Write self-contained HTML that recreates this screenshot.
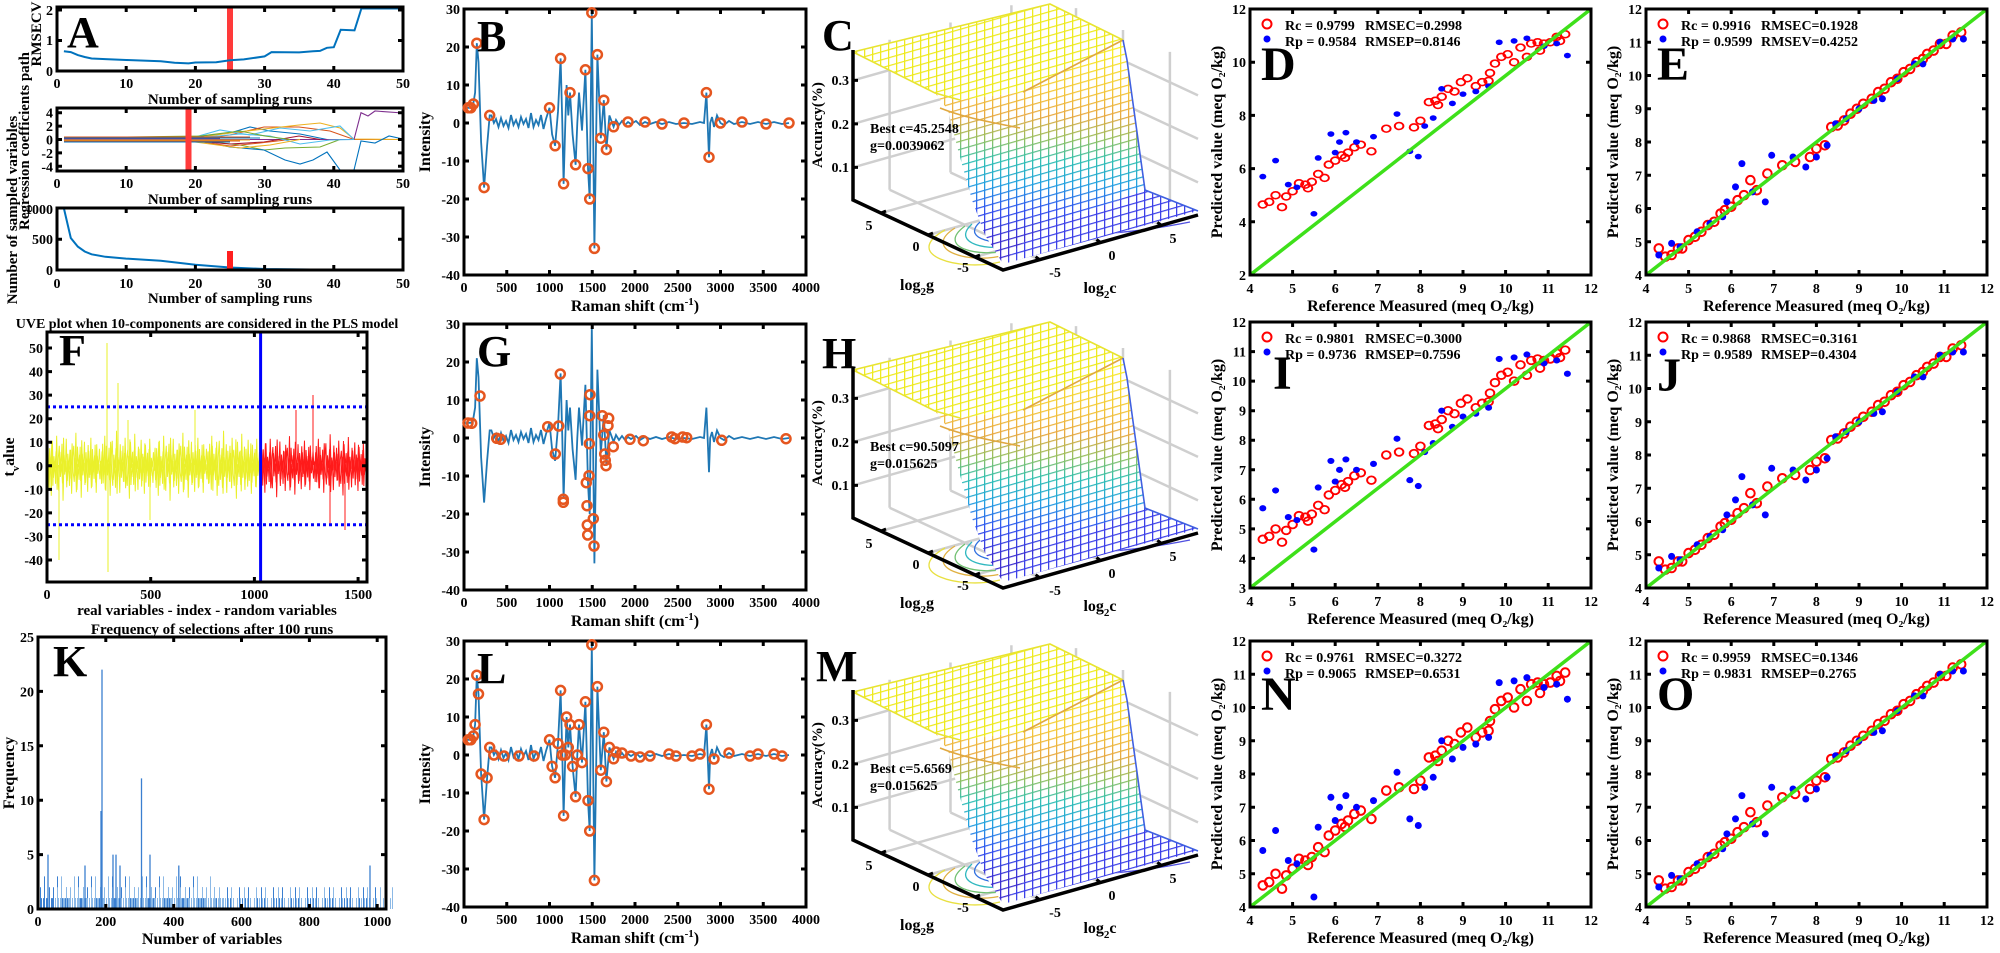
<!DOCTYPE html>
<html><head><meta charset="utf-8"><style>
body{margin:0;background:#fff}svg{display:block}
text{font-family:"Liberation Serif","DejaVu Serif",serif;font-weight:bold;font-size:14px}
.t15{font-size:15px}.t16{font-size:16px}.big{font-size:44px}.big48{font-size:48px}
.e{text-anchor:end}.m{text-anchor:middle}
.oc{fill:none;stroke:#E5561F;stroke-width:2.5}
.rc{fill:none;stroke:#ff0000;stroke-width:2}
.bc{fill:#0000ff}
.fr{fill:none;stroke:#000;stroke-width:3}
.tk{stroke:#000;stroke-width:3;fill:none}
</style></head>
<body>
<svg width="2000" height="953" xmlns="http://www.w3.org/2000/svg" xmlns:xlink="http://www.w3.org/1999/xlink">
<defs>
<clipPath id="cF"><rect x="47" y="332" width="320" height="250"/></clipPath>
<pattern id="gp" width="8" height="8" patternUnits="userSpaceOnUse" patternTransform="skewY(-16)"><path d="M0,0.6H8M0.6,0V8" stroke="#fff" stroke-width="1.3"/></pattern>
<mask id="mk" maskUnits="userSpaceOnUse" x="780" y="-10" width="440" height="300"><rect x="780" y="-10" width="440" height="300" fill="url(#gp)"/></mask>
<linearGradient id="sg" gradientUnits="userSpaceOnUse" x1="0" y1="40" x2="0" y2="240">
<stop offset="0" stop-color="#f9f520"/><stop offset="0.25" stop-color="#f4c838"/><stop offset="0.38" stop-color="#e8a840"/><stop offset="0.5" stop-color="#90c060"/><stop offset="0.6" stop-color="#30c0b0"/><stop offset="0.72" stop-color="#20a0e0"/><stop offset="0.85" stop-color="#3050f0"/><stop offset="1" stop-color="#3a2cd0"/></linearGradient>

<path id="nz" d="M0,5 L1.07,-18 L2.14,22 L3.21,-9 L4.28,30 L5.35,-25 L6.42,12 L7.49,-3 L8.56,18 L9.63,-30 L10.7,8 L11.77,25 L12.84,-14 L13.91,3 L14.98,-22 L16.05,35 L17.12,-11 L18.19,6 L19.26,-27 L20.33,15 L21.4,-5 L22.47,20 L23.54,-16 L24.61,28 L25.68,-8 L26.75,-20 L27.82,10 L28.89,-33 L29.96,24 L31.03,-2 L32.1,14 L33.17,-19 L34.24,32 L35.31,-12 L36.38,4 L37.45,-24 L38.52,17 L39.59,-7 L40.66,26 L41.73,-15 L42.8,9 L43.87,-28 L44.94,21 L46.01,-4 L47.08,13 L48.15,-21 L49.22,27 L50.29,-10 L51.36,2 L52.43,-17 L53.5,5" fill="none" stroke-width="1"/>

<path id="kd" d="M0.5,0v-10.9M2.5,0v-21.8M3.5,0v-10.9M5.5,0v-10.9M6.5,0v-32.6M8.5,0v-10.9M9.5,0v-10.9M11.5,0v-21.8M13.5,0v-10.9M14.5,0v-10.9M15.5,0v-21.8M17.5,0v-10.9M19.5,0v-32.6M20.5,0v-10.9M22.5,0v-10.9M23.5,0v-21.8M24.5,0v-10.9M27.5,0v-10.9M28.5,0v-21.8M29.5,0v-10.9M31.5,0v-10.9M32.5,0v-10.9" stroke-width="1"/>
<path id="ks" d="M0.5,0v-10.9M3.5,0v-10.9M6.5,0v-21.8M8.5,0v-10.9M12.5,0v-10.9M15.5,0v-10.9M19.5,0v-21.8M22.5,0v-10.9M25.5,0v-10.9M29.5,0v-10.9M31.5,0v-21.8" stroke-width="1"/>

<g id="spec">
<polyline fill="none" stroke="#1f77b4" stroke-width="1.8" points="3.4,98.8 8.6,98.8 11.1,83.6 12.8,34.2 14.5,53 17.1,133 20.1,178.6 23.1,136.8 25.7,106.4 27.4,106.4 29.9,114 32,110 34.5,118 37,109 39.5,117 42,112 44.5,119 47,106 49.5,116 52,111 54.5,118 57,108 59.5,115 62,110 64.5,119 67,104 69.5,118 72,111 74.5,116 77,106 79.5,120 82,110 85.5,98.8 88.1,125.4 91.1,136.8 94,102.6 96.6,49.4 98.3,114 99.6,174.8 101.3,114 102.6,76 104.3,106.4 106,83.6 108.6,125.4 111.6,155.8 113.3,114 115,83.6 118,121.6 121.4,60.8 124,159.6 125.7,190 127.8,3.8 130.4,239.4 133.4,45.6 136.8,129.2 139.8,91.2 142.4,140.6 145.4,106.4 149.6,117.8 152,111 155,116 158,112 161,116 164,113 167,115 172,112 176,116 181,113 186,115 192,113 198,115 205,113 212,115 220,114 228,115 236,113 240,114 242.4,83.6 245,148.2 246.2,114 248,108 250,118 253,106.4 256.5,114 260,116 265,112 270,115 278,113 286,115 294,113 302,115 310,113 318,115 325,114"/>
<rect class="fr" x="0" y="0" width="342" height="266"/>
<path class="tk" d="M42.75,266v-5M85.5,266v-5M128.25,266v-5M171,266v-5M213.75,266v-5M256.5,266v-5M299.25,266v-5M42.75,0v5M85.5,0v5M128.25,0v5M171,0v5M213.75,0v5M256.5,0v5M299.25,0v5M0,38h5M0,76h5M0,114h5M0,152h5M0,190h5M0,228h5M342,38h-5M342,76h-5M342,114h-5M342,152h-5M342,190h-5M342,228h-5"/>
<g class="m"><text x="0" y="283">0</text><text x="42.75" y="283">500</text><text x="85.5" y="283">1000</text><text x="128.25" y="283">1500</text><text x="171" y="283">2000</text><text x="213.75" y="283">2500</text><text x="256.5" y="283">3000</text><text x="299.25" y="283">3500</text><text x="342" y="283">4000</text></g>
<g class="e"><text x="-4" y="5">30</text><text x="-4" y="43">20</text><text x="-4" y="81">10</text><text x="-4" y="119">0</text><text x="-4" y="157">-10</text><text x="-4" y="195">-20</text><text x="-4" y="233">-30</text><text x="-4" y="271">-40</text></g>
<text class="t16 m" x="171" y="302">Raman shift (cm<tspan dy="-6" font-size="11">-1</tspan><tspan dy="6">)</tspan></text>
<text class="t16 m" x="-34" y="133" transform="rotate(-90 -34 133)">Intensity</text>
</g>

<g id="sf">
<line x1="0" y1="266" x2="341" y2="0" stroke="#3ee01a" stroke-width="3.5"/>
<rect class="fr" x="0" y="0" width="341" height="266"/>
<path class="tk" d="M42.6,266v-5M85.2,266v-5M127.8,266v-5M170.4,266v-5M213,266v-5M255.6,266v-5M298.2,266v-5M42.6,0v5M85.2,0v5M127.8,0v5M170.4,0v5M213,0v5M255.6,0v5M298.2,0v5"/>
<g class="m t15"><text x="0" y="284">4</text><text x="42.6" y="284">5</text><text x="85.2" y="284">6</text><text x="127.8" y="284">7</text><text x="170.4" y="284">8</text><text x="213" y="284">9</text><text x="255.6" y="284">10</text><text x="298.2" y="284">11</text><text x="341" y="284">12</text></g>
<text class="t16 m" x="170.5" y="302">Reference Measured (meq O₂/kg)</text>
<text class="t16 m" x="-28" y="133" transform="rotate(-90 -28 133)">Predicted value (meq O₂/kg)</text>
<circle cx="17" cy="15" r="4.5" class="rc"/><circle cx="17" cy="30" r="3.5" class="bc"/>
</g>

<g id="loose">
<g class="rc"><circle cx="12.8" cy="244.4" r="4.3"/><circle cx="19.2" cy="241.1" r="4.3"/><circle cx="25.6" cy="232.8" r="4.3"/><circle cx="32" cy="247.7" r="4.3"/><circle cx="36.2" cy="234.4" r="4.3"/><circle cx="42.6" cy="227.8" r="4.3"/><circle cx="49" cy="217.8" r="4.3"/><circle cx="55.4" cy="219.5" r="4.3"/><circle cx="61.8" cy="216.1" r="4.3"/><circle cx="68.2" cy="206.2" r="4.3"/><circle cx="74.6" cy="211.1" r="4.3"/><circle cx="78.8" cy="194.5" r="4.3"/><circle cx="85.2" cy="189.5" r="4.3"/><circle cx="91.6" cy="182.9" r="4.3"/><circle cx="98" cy="179.5" r="4.3"/><circle cx="104.4" cy="172.9" r="4.3"/><circle cx="110.8" cy="169.6" r="4.3"/><circle cx="121.4" cy="177.9" r="4.3"/><circle cx="136.3" cy="149.6" r="4.3"/><circle cx="149.1" cy="146.3" r="4.3"/><circle cx="164" cy="148" r="4.3"/><circle cx="170.4" cy="139.7" r="4.3"/><circle cx="178.9" cy="116.4" r="4.3"/><circle cx="185.3" cy="114.7" r="4.3"/><circle cx="191.7" cy="109.7" r="4.3"/><circle cx="198.1" cy="99.8" r="4.3"/><circle cx="204.5" cy="103.1" r="4.3"/><circle cx="210.9" cy="91.4" r="4.3"/><circle cx="217.3" cy="86.5" r="4.3"/><circle cx="225.8" cy="96.4" r="4.3"/><circle cx="232.2" cy="91.4" r="4.3"/><circle cx="238.6" cy="89.8" r="4.3"/><circle cx="245" cy="68.2" r="4.3"/><circle cx="251.3" cy="59.9" r="4.3"/><circle cx="257.7" cy="56.5" r="4.3"/><circle cx="264.1" cy="66.5" r="4.3"/><circle cx="270.5" cy="48.2" r="4.3"/><circle cx="276.9" cy="59.9" r="4.3"/><circle cx="281.2" cy="43.2" r="4.3"/><circle cx="287.6" cy="41.6" r="4.3"/><circle cx="294" cy="43.2" r="4.3"/><circle cx="300.3" cy="41.6" r="4.3"/><circle cx="306.7" cy="34.9" r="4.3"/><circle cx="315.2" cy="31.6" r="4.3"/><circle cx="58" cy="224" r="4.3"/><circle cx="95" cy="186" r="4.3"/><circle cx="188" cy="120" r="4.3"/><circle cx="240" cy="80" r="4.3"/><circle cx="290" cy="52" r="4.3"/><circle cx="310" cy="40" r="4.3"/></g>
<g class="bc"><circle cx="12.8" cy="209.5" r="3.5"/><circle cx="25.6" cy="189.5" r="3.5"/><circle cx="38.3" cy="219.5" r="3.5"/><circle cx="46.9" cy="222.8" r="3.5"/><circle cx="63.9" cy="256" r="3.5"/><circle cx="68.2" cy="186.2" r="3.5"/><circle cx="80.9" cy="156.3" r="3.5"/><circle cx="85.2" cy="179.5" r="3.5"/><circle cx="89.5" cy="166.3" r="3.5"/><circle cx="95.9" cy="154.6" r="3.5"/><circle cx="106.5" cy="166.3" r="3.5"/><circle cx="123.5" cy="159.6" r="3.5"/><circle cx="147" cy="131.3" r="3.5"/><circle cx="159.8" cy="177.9" r="3.5"/><circle cx="168.3" cy="184.5" r="3.5"/><circle cx="174.7" cy="146.3" r="3.5"/><circle cx="183.2" cy="136.3" r="3.5"/><circle cx="191.7" cy="99.8" r="3.5"/><circle cx="202.4" cy="118" r="3.5"/><circle cx="213" cy="106.4" r="3.5"/><circle cx="225.8" cy="103.1" r="3.5"/><circle cx="238.6" cy="96.4" r="3.5"/><circle cx="249.2" cy="41.6" r="3.5"/><circle cx="264.1" cy="39.9" r="3.5"/><circle cx="276.9" cy="36.6" r="3.5"/><circle cx="294" cy="46.5" r="3.5"/><circle cx="306.7" cy="43.2" r="3.5"/><circle cx="317.4" cy="58.2" r="3.5"/></g>
</g>

<g id="tight">
<g class="rc"><circle cx="12.8" cy="239.4" r="4.3"/><circle cx="19.2" cy="247.7" r="4.3"/><circle cx="25.6" cy="246" r="4.3"/><circle cx="32" cy="239.4" r="4.3"/><circle cx="36.2" cy="239.4" r="4.3"/><circle cx="42.6" cy="231.1" r="4.3"/><circle cx="49" cy="227.8" r="4.3"/><circle cx="55.4" cy="222.8" r="4.3"/><circle cx="61.8" cy="216.1" r="4.3"/><circle cx="68.2" cy="212.8" r="4.3"/><circle cx="74.6" cy="204.5" r="4.3"/><circle cx="78.8" cy="201.2" r="4.3"/><circle cx="85.2" cy="197.8" r="4.3"/><circle cx="91.6" cy="191.2" r="4.3"/><circle cx="98" cy="186.2" r="4.3"/><circle cx="104.4" cy="171.2" r="4.3"/><circle cx="110.8" cy="181.2" r="4.3"/><circle cx="121.4" cy="164.6" r="4.3"/><circle cx="136.3" cy="156.3" r="4.3"/><circle cx="149.1" cy="152.9" r="4.3"/><circle cx="164" cy="148" r="4.3"/><circle cx="170.4" cy="139.7" r="4.3"/><circle cx="178.9" cy="136.3" r="4.3"/><circle cx="185.3" cy="118" r="4.3"/><circle cx="191.7" cy="116.4" r="4.3"/><circle cx="198.1" cy="111.4" r="4.3"/><circle cx="204.5" cy="104.7" r="4.3"/><circle cx="210.9" cy="99.8" r="4.3"/><circle cx="217.3" cy="94.8" r="4.3"/><circle cx="225.8" cy="89.8" r="4.3"/><circle cx="232.2" cy="83.1" r="4.3"/><circle cx="238.6" cy="79.8" r="4.3"/><circle cx="245" cy="73.2" r="4.3"/><circle cx="251.3" cy="69.8" r="4.3"/><circle cx="257.7" cy="63.2" r="4.3"/><circle cx="264.1" cy="59.9" r="4.3"/><circle cx="270.5" cy="53.2" r="4.3"/><circle cx="276.9" cy="49.9" r="4.3"/><circle cx="281.2" cy="44.9" r="4.3"/><circle cx="287.6" cy="41.6" r="4.3"/><circle cx="294" cy="34.9" r="4.3"/><circle cx="300.3" cy="34.9" r="4.3"/><circle cx="306.7" cy="26.6" r="4.3"/><circle cx="315.2" cy="23.3" r="4.3"/></g>
<g class="bc"><circle cx="12.8" cy="246" r="3.5"/><circle cx="25.6" cy="234.4" r="3.5"/><circle cx="34.1" cy="237.7" r="3.5"/><circle cx="51.1" cy="222.8" r="3.5"/><circle cx="63.9" cy="214.5" r="3.5"/><circle cx="76.7" cy="207.8" r="3.5"/><circle cx="80.9" cy="192.9" r="3.5"/><circle cx="89.5" cy="177.9" r="3.5"/><circle cx="95.9" cy="154.6" r="3.5"/><circle cx="106.5" cy="182.9" r="3.5"/><circle cx="119.3" cy="192.9" r="3.5"/><circle cx="125.7" cy="146.3" r="3.5"/><circle cx="147" cy="148" r="3.5"/><circle cx="159.8" cy="158" r="3.5"/><circle cx="170.4" cy="148" r="3.5"/><circle cx="181.1" cy="136.3" r="3.5"/><circle cx="189.6" cy="114.7" r="3.5"/><circle cx="200.2" cy="109.7" r="3.5"/><circle cx="213" cy="99.8" r="3.5"/><circle cx="227.9" cy="91.4" r="3.5"/><circle cx="236.4" cy="89.8" r="3.5"/><circle cx="251.3" cy="69.8" r="3.5"/><circle cx="268.4" cy="54.9" r="3.5"/><circle cx="276.9" cy="54.9" r="3.5"/><circle cx="294" cy="33.3" r="3.5"/><circle cx="306.7" cy="30" r="3.5"/><circle cx="317.4" cy="30" r="3.5"/></g>
</g>

<g id="surf">
<g stroke="#cfcfcf" stroke-width="2.5" fill="none">
<path d="M853,167.4L1048,112.4L1198,182.4M853,123.9L1048,68.9L1198,138.9M853,80.4L1048,25.4L1198,95.4"/>
<path d="M889.6,189.7V39.7M950.5,172.5V22.5M1011.4,155.3V5.3M1076,158.1V8.1M1123,180V30M1169.9,201.9V51.9"/>
<path d="M889.6,189.7L1039.6,259.7M950.5,172.5L1100.5,242.5M1011.4,155.3L1161.4,225.3M881,213L1076,158M928,235L1123,180M975,257L1170,202"/>
</g>
<g fill="none" stroke-width="1.3">
<path d="M945,230 C900,255 960,272 1000,262" stroke="#e8e040"/>
<path d="M955,228 C920,250 970,265 1005,255" stroke="#e0b040"/>
<path d="M965,226 C935,248 980,258 1010,250" stroke="#70c070"/>
<path d="M972,224 C950,244 990,252 1015,245" stroke="#30b8c0"/>
<path d="M980,222 C960,240 1000,246 1020,240" stroke="#3070e0"/>
<path d="M1060,228 C1050,238 1120,236 1190,222" stroke="#5050e0"/>
</g>
<g fill="#fff">
<polygon points="853,52 1050,4 1123,40 1023,92 960,100 935,93"/>
<polygon points="1023,92 1123,40 1127,60 1145,190 1053,224 1030,215"/>
<polygon points="935,93 960,100 1023,92 1030,215 1053,224 1020,245 1003,264 985,235 972,200 958,150 948,110"/>
<polygon points="1003,264 1020,245 1053,224 1145,190 1198,211"/>
</g>
<g mask="url(#mk)">
<polygon points="853,52 1050,4 1123,40 1023,92 960,100 935,93" fill="#eeea1c"/>
<polygon points="1023,92 1123,40 1127,60 1145,190 1053,224 1030,215" fill="url(#sg)"/>
<polygon points="935,93 960,100 1023,92 1030,215 1053,224 1020,245 1003,264 985,235 972,200 958,150 948,110" fill="url(#sg)"/>
<polygon points="1003,264 1020,245 1053,224 1145,190 1198,211" fill="#3a3ee8"/>
</g>
<g fill="none" stroke-width="1.6">
<path d="M853,52L1050,4L1123,40" stroke="#e8e430"/>
<path d="M1023,92L1123,40" stroke="#e0a840"/>
<path d="M853,52L935,93L960,100" stroke="#e8e430"/>
<path d="M940,108 C965,118 990,122 1020,128" stroke="#e0a840"/>
<path d="M1123,40 L1127,60 L1145,190 L1198,211" stroke="#4060e0"/>
</g>
<path d="M853,50V200L1003,270L1198,215" fill="none" stroke="#000" stroke-width="3.5"/>
<path d="M853,167.4h5M853,123.9h5M853,80.4h5M881,213l5,-2M928,235l5,-2M975,257l5,-2M1039.6,259.7l-4,-3M1100.5,242.5l-4,-3M1161.4,225.3l-4,-3" stroke="#000" stroke-width="3"/>
<g class="e"><text x="849" y="172">0.1</text><text x="849" y="129">0.2</text><text x="849" y="85">0.3</text></g>
<g class="m"><text x="869" y="230">5</text><text x="916" y="251">0</text><text x="963" y="272">-5</text><text x="1055" y="277">-5</text><text x="1112" y="260">0</text><text x="1173" y="243">5</text></g>
<text class="t16 m" x="917" y="290">log<tspan dy="5" font-size="11">2</tspan><tspan dy="-5">g</tspan></text>
<text class="t16 m" x="1100" y="293">log<tspan dy="5" font-size="11">2</tspan><tspan dy="-5">c</tspan></text>
<text class="t15 m" x="822" y="125" transform="rotate(-90 822 125)">Accuracy(%)</text>
</g>
</defs>

<!-- A -->
<rect x="227" y="7" width="6" height="64" fill="#ff3a3a"/>
<polyline fill="none" stroke="#0072BD" stroke-width="2" points="63.9,51.2 70.8,52.1 77.8,55.1 84.7,57 91.6,58.5 105.4,59.1 126.2,60 160.8,61.2 174.6,62.8 188.5,63.4 195.4,62.5 216.2,62.2 230,60.3 243.8,59.4 264.6,56.4 271.5,52.1 299.2,52.4 313,51.2 320,50.9 326.9,47.8 333.8,47.2 340.7,29.8 354.5,30.4 361.4,8.5 403,8.5"/>
<rect class="fr" x="57" y="7" width="346" height="64"/>
<path class="tk" d="M126.2,71v-5M195.4,71v-5M264.6,71v-5M333.8,71v-5M126.2,7v5M195.4,7v5M264.6,7v5M333.8,7v5M57,40.5h5M403,40.5h-5M57,10h5M403,10h-5"/>
<g class="e"><text x="53" y="76">0</text><text x="53" y="45">1</text><text x="53" y="15">2</text></g>
<g class="m"><text x="57" y="88">0</text><text x="126.2" y="88">10</text><text x="195.4" y="88">20</text><text x="264.6" y="88">30</text><text x="333.8" y="88">40</text><text x="403" y="88">50</text></g>
<text class="t15 m" x="230" y="104">Number of sampling runs</text>

<g fill="none" stroke-width="1.1">
<polyline stroke="#0072BD" points="64,138 195,137 230,133 250,127 270,131 300,134 327,139.5"/>
<polyline stroke="#D95319" points="64,140 195,139 230,135 264,127 299,127 330,131 354,139.5 403,139.5"/>
<polyline stroke="#EDB120" points="64,139 195,138 230,133 264,129 299,125 320,123 340,128 354,139 403,139.5"/>
<polyline stroke="#7E2F8E" points="64,139.5 340,139.5 354,139.5 361,112.7 368,116 375,111 403,113"/>
<polyline stroke="#77AC30" points="64,139 195,140 240,145 264,150 285,148 320,147 340,139.5"/>
<polyline stroke="#4DBEEE" points="64,139 195,137 220,130 250,135 280,128 310,131 340,126 354,139.5"/>
<polyline stroke="#A2142F" points="64,140 195,141 230,144 264,142 299,136 320,139.5"/>
<polyline stroke="#0072BD" points="64,139 195,140 230,147 264,150 285,160 300,164 313,160 327,152 340,170 354,170 361,141 375,143 389,136 403,139"/>
<polyline stroke="#D95319" points="64,139.5 195,141 230,146 260,143 290,139.5"/>
<polyline stroke="#4DBEEE" points="64,139 195,138 240,134 270,136 300,144 330,140 354,139.5"/>
<polyline stroke="#EDB120" points="64,140 195,142 240,148 270,145 300,139.5"/>
<polyline stroke="#77AC30" points="64,138 200,136 240,131 265,136 290,139.5"/>
<path stroke="#D95319" d="M64,137H250M64,141H240"/>
<path stroke="#0072BD" d="M64,138H260M64,142H230"/>
<path stroke="#EDB120" d="M64,140H250"/>
<path stroke="#7E2F8E" d="M64,139H220"/>
</g>
<rect x="185.5" y="108" width="6" height="63" fill="#ff3a3a"/>
<rect class="fr" x="57" y="108" width="346" height="63"/>
<path class="tk" d="M126.2,171v-5M195.4,171v-5M264.6,171v-5M333.8,171v-5M126.2,108v5M195.4,108v5M264.6,108v5M333.8,108v5M57,112.7h5M57,126.1h5M57,139.5h5M57,152.9h5M57,166.3h5M403,112.7h-5M403,126.1h-5M403,139.5h-5M403,152.9h-5M403,166.3h-5"/>
<g class="e"><text x="53" y="117.7">4</text><text x="53" y="131.1">2</text><text x="53" y="144.5">0</text><text x="53" y="157.9">-2</text><text x="53" y="171.3">-4</text></g>
<g class="m"><text x="57" y="188">0</text><text x="126.2" y="188">10</text><text x="195.4" y="188">20</text><text x="264.6" y="188">30</text><text x="333.8" y="188">40</text><text x="403" y="188">50</text></g>
<text class="t15 m" x="230" y="204">Number of sampling runs</text>

<polyline fill="none" stroke="#0072BD" stroke-width="2" points="63.9,208.4 70.8,238 77.8,246.6 84.7,251.5 91.6,254.3 105.4,256.8 126.2,258.6 160.8,260.8 195.4,264.8 230,267.5 264.6,269 333.8,269.8 403,269.9"/>
<rect x="227" y="251" width="6" height="19" fill="#ff2020"/>
<rect class="fr" x="57" y="208" width="346" height="62"/>
<path class="tk" d="M126.2,270v-5M195.4,270v-5M264.6,270v-5M333.8,270v-5M126.2,208v5M195.4,208v5M264.6,208v5M333.8,208v5M57,239.2h5M403,239.2h-5"/>
<g class="e"><text x="53" y="275">0</text><text x="53" y="244">500</text><text x="53" y="214">1000</text></g>
<g class="m"><text x="57" y="288">0</text><text x="126.2" y="288">10</text><text x="195.4" y="288">20</text><text x="264.6" y="288">30</text><text x="333.8" y="288">40</text><text x="403" y="288">50</text></g>
<text class="t15 m" x="230" y="303">Number of sampling runs</text>
<text class="t15 m" x="41" y="34" transform="rotate(-90 41 34)">RMSECV</text>
<text class="t15 m" x="29" y="141" transform="rotate(-90 29 141)">Regression coefficients path</text>
<text class="t15 m" x="17" y="210" transform="rotate(-90 17 210)">Number of sampled variables</text>
<text class="big" x="67" y="47">A</text>

<!-- F -->
<g clip-path="url(#cF)">
<g stroke="#eaf02a">
<use href="#nz" transform="translate(47,465.8)"/>
<use href="#nz" transform="translate(100.5,465.8) scale(1,-1)"/>
<use href="#nz" transform="translate(154,465.8)"/>
<use href="#nz" transform="translate(207.5,465.8) scale(1,-1)"/>
<use href="#nz" transform="translate(47.5,465.8) scale(1,-0.8)"/>
<use href="#nz" transform="translate(101,465.8) scale(1,0.8)"/>
<use href="#nz" transform="translate(154.5,465.8) scale(1,-0.8)"/>
<use href="#nz" transform="translate(207,465.8) scale(1,0.8)"/>
<path d="M47.4,465V348M59,465V560M107,465V343M108,465V572M118,465V383M128,465V420M150,465V520M195,465V410" stroke-width="1"/>
</g>
<g stroke="#ff1a1a">
<use href="#nz" transform="translate(260.6,465.8) scale(1,0.9)"/>
<use href="#nz" transform="translate(314.1,465.8) scale(1,-0.9)"/>
<use href="#nz" transform="translate(261.1,465.8) scale(1,-0.75)"/>
<use href="#nz" transform="translate(314.6,465.8) scale(1,0.75)"/>
<path d="M313,465V395M345,465V530M296,465V410M330,465V525" stroke-width="1"/>
</g>
<path d="M47,406.9H367M47,524.7H367" stroke="#0000ff" stroke-width="3" stroke-dasharray="3,3"/>
<path d="M260.6,332V582" stroke="#0000ff" stroke-width="3"/>
</g>
<rect class="fr" x="47" y="332" width="320" height="250"/>
<path class="tk" d="M150.7,582v-5M254.4,582v-5M358.1,582v-5M150.7,332v5M254.4,332v5M358.1,332v5M47,348h5M47,371.6h5M47,395.1h5M47,418.7h5M47,442.2h5M47,465.8h5M47,489.4h5M47,512.9h5M47,536.5h5M47,560h5M367,348h-5M367,371.6h-5M367,395.1h-5M367,418.7h-5M367,442.2h-5M367,465.8h-5M367,489.4h-5M367,512.9h-5M367,536.5h-5M367,560h-5"/>
<g class="e"><text x="43" y="353">50</text><text x="43" y="376.6">40</text><text x="43" y="400.1">30</text><text x="43" y="423.7">20</text><text x="43" y="447.2">10</text><text x="43" y="470.8">0</text><text x="43" y="494.4">-10</text><text x="43" y="517.9">-20</text><text x="43" y="541.5">-30</text><text x="43" y="565">-40</text></g>
<g class="m"><text x="47" y="599">0</text><text x="150.7" y="599">500</text><text x="254.4" y="599">1000</text><text x="358.1" y="599">1500</text></g>
<text class="m" x="207" y="328">UVE plot when 10-components are considered in the PLS model</text>
<text class="t15 m" x="207" y="615">real variables - index - random variables</text>
<text class="t16 m" x="14" y="457" transform="rotate(-90 14 457)">t<tspan dy="5" font-size="11">v</tspan><tspan dy="-5">alue</tspan></text>
<text class="big" x="59" y="365">F</text>

<!-- K -->
<g stroke="#3b7fd0">
<use href="#kd" x="38" y="909"/><use href="#kd" x="72" y="909"/><use href="#kd" x="106" y="909"/><use href="#kd" x="140" y="909"/><use href="#kd" x="174" y="909"/>
<use href="#ks" x="208" y="909"/><use href="#ks" x="242" y="909"/><use href="#ks" x="276" y="909"/><use href="#ks" x="310" y="909"/><use href="#ks" x="344" y="909"/>
</g>
<g stroke="#8cb9e6">
<use href="#kd" x="55" y="909"/><use href="#kd" x="89" y="909"/><use href="#kd" x="123" y="909"/><use href="#kd" x="157" y="909"/><use href="#kd" x="191" y="909"/>
<use href="#ks" x="225" y="909"/><use href="#ks" x="259" y="909"/><use href="#ks" x="293" y="909"/><use href="#ks" x="327" y="909"/><use href="#ks" x="361" y="909"/>
</g>
<path d="M102,909V669.6M101,909V811M141.5,909V778.4M48,909V854.6M113,909V854.6M116,909V854.6M150,909V854.6M120,909V865.5M178.8,909V865.5M370,909V865.5M85,909V865.5" stroke="#3b7fd0" stroke-width="1.3"/>
<rect class="fr" x="38" y="637" width="348" height="272"/>
<path class="tk" d="M105.8,909v-5M173.7,909v-5M241.5,909v-5M309.4,909v-5M377.2,909v-5M105.8,637v5M173.7,637v5M241.5,637v5M309.4,637v5M377.2,637v5M38,854.6h5M38,800.2h5M38,745.8h5M38,691.4h5M386,854.6h-5M386,800.2h-5M386,745.8h-5M386,691.4h-5"/>
<g class="e"><text x="34" y="914">0</text><text x="34" y="859.6">5</text><text x="34" y="805.2">10</text><text x="34" y="750.8">15</text><text x="34" y="696.4">20</text><text x="34" y="642">25</text></g>
<g class="m"><text x="38" y="926">0</text><text x="105.8" y="926">200</text><text x="173.7" y="926">400</text><text x="241.5" y="926">600</text><text x="309.4" y="926">800</text><text x="377.2" y="926">1000</text></g>
<text class="t15 m" x="212" y="634">Frequency of selections after 100 runs</text>
<text class="t16 m" x="212" y="944">Number of variables</text>
<text class="t16 m" x="14" y="773" transform="rotate(-90 14 773)">Frequency</text>
<text class="big" x="53" y="676">K</text>

<!-- B G L -->
<use href="#spec" transform="translate(464,9)"/>
<g class="oc" transform="translate(464,9)"><circle cx="4.3" cy="98.8" r="4.5"/><circle cx="6.8" cy="98.8" r="4.5"/><circle cx="9.4" cy="95" r="4.5"/><circle cx="12.8" cy="34.2" r="4.5"/><circle cx="20.1" cy="178.6" r="4.5"/><circle cx="25.7" cy="106.4" r="4.5"/><circle cx="85.5" cy="98.8" r="4.5"/><circle cx="91.1" cy="136.8" r="4.5"/><circle cx="96.6" cy="49.4" r="4.5"/><circle cx="99.6" cy="174.8" r="4.5"/><circle cx="106" cy="83.6" r="4.5"/><circle cx="111.6" cy="155.8" r="4.5"/><circle cx="121.4" cy="60.8" r="4.5"/><circle cx="124" cy="159.6" r="4.5"/><circle cx="125.7" cy="190" r="4.5"/><circle cx="127.8" cy="3.8" r="4.5"/><circle cx="130.4" cy="239.4" r="4.5"/><circle cx="133.4" cy="45.6" r="4.5"/><circle cx="136.8" cy="129.2" r="4.5"/><circle cx="139.8" cy="91.2" r="4.5"/><circle cx="142.4" cy="140.6" r="4.5"/><circle cx="149.6" cy="117.8" r="4.5"/><circle cx="164" cy="113" r="4.5"/><circle cx="181" cy="113" r="4.5"/><circle cx="198" cy="115" r="4.5"/><circle cx="220" cy="114" r="4.5"/><circle cx="242.4" cy="83.6" r="4.5"/><circle cx="245" cy="148.2" r="4.5"/><circle cx="256.5" cy="114" r="4.5"/><circle cx="278" cy="113" r="4.5"/><circle cx="302" cy="115" r="4.5"/><circle cx="325" cy="114" r="4.5"/></g>
<text class="big" x="477" y="51">B</text>

<use href="#spec" transform="translate(464,324)"/>
<g class="oc" transform="translate(464,324)"><circle cx="7.7" cy="99.3" r="4.5"/><circle cx="4" cy="99" r="4.5"/><circle cx="16" cy="72" r="4.5"/><circle cx="32.7" cy="114.3" r="4.5"/><circle cx="36.7" cy="115.3" r="4.5"/><circle cx="83.7" cy="102.7" r="4.5"/><circle cx="91.3" cy="130" r="4.5"/><circle cx="94.7" cy="102" r="4.5"/><circle cx="96.3" cy="50" r="4.5"/><circle cx="99.3" cy="175.3" r="4.5"/><circle cx="99.3" cy="178.3" r="4.5"/><circle cx="122.3" cy="158.7" r="4.5"/><circle cx="123" cy="181.7" r="4.5"/><circle cx="123.3" cy="201" r="4.5"/><circle cx="123.7" cy="211" r="4.5"/><circle cx="125" cy="151.7" r="4.5"/><circle cx="125.3" cy="119.7" r="4.5"/><circle cx="125.7" cy="91.7" r="4.5"/><circle cx="126" cy="70.7" r="4.5"/><circle cx="129.3" cy="194.7" r="4.5"/><circle cx="130" cy="222" r="4.5"/><circle cx="138.3" cy="91.7" r="4.5"/><circle cx="139.7" cy="111" r="4.5"/><circle cx="140.7" cy="130" r="4.5"/><circle cx="141.3" cy="136.3" r="4.5"/><circle cx="142" cy="141.7" r="4.5"/><circle cx="144" cy="101.7" r="4.5"/><circle cx="144.7" cy="94.3" r="4.5"/><circle cx="149.3" cy="122.7" r="4.5"/><circle cx="166" cy="115.3" r="4.5"/><circle cx="179.3" cy="116.7" r="4.5"/><circle cx="207.7" cy="113" r="4.5"/><circle cx="211" cy="114.7" r="4.5"/><circle cx="218.7" cy="113" r="4.5"/><circle cx="222.7" cy="113.7" r="4.5"/><circle cx="257.7" cy="116.3" r="4.5"/><circle cx="322" cy="114.7" r="4.5"/></g>
<text class="big" x="477" y="366">G</text>

<use href="#spec" transform="translate(464,641)"/>
<g class="oc" transform="translate(464,641)"><circle cx="4.3" cy="98.8" r="4.5"/><circle cx="6.8" cy="98.8" r="4.5"/><circle cx="9.4" cy="95" r="4.5"/><circle cx="11.1" cy="83.6" r="4.5"/><circle cx="12.8" cy="34.2" r="4.5"/><circle cx="14.5" cy="53" r="4.5"/><circle cx="17.1" cy="133" r="4.5"/><circle cx="20.1" cy="178.6" r="4.5"/><circle cx="23.1" cy="136.8" r="4.5"/><circle cx="25.7" cy="106.4" r="4.5"/><circle cx="29.9" cy="114" r="4.5"/><circle cx="40" cy="115" r="4.5"/><circle cx="55" cy="115" r="4.5"/><circle cx="70" cy="115" r="4.5"/><circle cx="85.5" cy="98.8" r="4.5"/><circle cx="88.1" cy="125.4" r="4.5"/><circle cx="91.1" cy="136.8" r="4.5"/><circle cx="94" cy="102.6" r="4.5"/><circle cx="96.6" cy="49.4" r="4.5"/><circle cx="98.3" cy="114" r="4.5"/><circle cx="99.6" cy="174.8" r="4.5"/><circle cx="101.3" cy="114" r="4.5"/><circle cx="102.6" cy="76" r="4.5"/><circle cx="104.3" cy="106.4" r="4.5"/><circle cx="106" cy="83.6" r="4.5"/><circle cx="108.6" cy="125.4" r="4.5"/><circle cx="111.6" cy="155.8" r="4.5"/><circle cx="113.3" cy="114" r="4.5"/><circle cx="115" cy="83.6" r="4.5"/><circle cx="118" cy="121.6" r="4.5"/><circle cx="121.4" cy="60.8" r="4.5"/><circle cx="124" cy="159.6" r="4.5"/><circle cx="125.7" cy="190" r="4.5"/><circle cx="127.8" cy="3.8" r="4.5"/><circle cx="130.4" cy="239.4" r="4.5"/><circle cx="133.4" cy="45.6" r="4.5"/><circle cx="136.8" cy="129.2" r="4.5"/><circle cx="139.8" cy="91.2" r="4.5"/><circle cx="142.4" cy="140.6" r="4.5"/><circle cx="145.4" cy="106.4" r="4.5"/><circle cx="149.6" cy="117.8" r="4.5"/><circle cx="152" cy="111" r="4.5"/><circle cx="158" cy="112" r="4.5"/><circle cx="167" cy="115" r="4.5"/><circle cx="176" cy="116" r="4.5"/><circle cx="186" cy="115" r="4.5"/><circle cx="205" cy="113" r="4.5"/><circle cx="212" cy="115" r="4.5"/><circle cx="228" cy="115" r="4.5"/><circle cx="236" cy="113" r="4.5"/><circle cx="242.4" cy="83.6" r="4.5"/><circle cx="245" cy="148.2" r="4.5"/><circle cx="250" cy="118" r="4.5"/><circle cx="265" cy="112" r="4.5"/><circle cx="286" cy="115" r="4.5"/><circle cx="294" cy="113" r="4.5"/><circle cx="310" cy="113" r="4.5"/><circle cx="318" cy="115" r="4.5"/></g>
<text class="big" x="477" y="683">L</text>

<!-- C H M -->
<use href="#surf"/>
<text x="870" y="133">Best c=45.2548</text><text x="870" y="150">g=0.0039062</text>
<text class="big" x="822" y="50">C</text>
<use href="#surf" y="318"/>
<text x="870" y="451">Best c=90.5097</text><text x="870" y="468">g=0.015625</text>
<text class="big" x="822" y="368">H</text>
<use href="#surf" y="640"/>
<text x="870" y="773">Best c=5.6569</text><text x="870" y="790">g=0.015625</text>
<text class="big" x="816" y="681">M</text>

<!-- D -->
<use href="#loose" transform="translate(1250,9) scale(1,0.8)"/>
<use href="#sf" transform="translate(1250,9)"/>
<path class="tk" d="M1250,221.8h5M1250,168.6h5M1250,115.4h5M1250,62.2h5M1591,221.8h-5M1591,168.6h-5M1591,115.4h-5M1591,62.2h-5"/>
<g class="e t15"><text x="1246" y="280">2</text><text x="1246" y="226.8">4</text><text x="1246" y="173.6">6</text><text x="1246" y="120.4">8</text><text x="1246" y="67.2">10</text><text x="1246" y="14">12</text></g>
<text x="1285" y="30">Rc = 0.9799</text><text x="1365" y="30">RMSEC=0.2998</text>
<text x="1285" y="46">Rp = 0.9584</text><text x="1365" y="46">RMSEP=0.8146</text>
<text class="big48" x="1261" y="80">D</text>

<!-- E -->
<use href="#tight" transform="translate(1646,9)"/>
<use href="#sf" transform="translate(1646,9)"/>
<path class="tk" d="M1646,241.75h5M1646,208.5h5M1646,175.25h5M1646,142h5M1646,108.75h5M1646,75.5h5M1646,42.25h5M1987,241.75h-5M1987,208.5h-5M1987,175.25h-5M1987,142h-5M1987,108.75h-5M1987,75.5h-5M1987,42.25h-5"/>
<g class="e t15"><text x="1642" y="280">4</text><text x="1642" y="246.75">5</text><text x="1642" y="213.5">6</text><text x="1642" y="180.25">7</text><text x="1642" y="147">8</text><text x="1642" y="113.75">9</text><text x="1642" y="80.5">10</text><text x="1642" y="47.25">11</text><text x="1642" y="14">12</text></g>
<text x="1681" y="30">Rc = 0.9916</text><text x="1761" y="30">RMSEC=0.1928</text>
<text x="1681" y="46">Rp = 0.9599</text><text x="1761" y="46">RMSEV=0.4252</text>
<text class="big48" x="1657" y="80">E</text>

<!-- I -->
<use href="#loose" transform="translate(1250,322) scale(1,0.889)"/>
<use href="#sf" transform="translate(1250,322)"/>
<path class="tk" d="M1250,558.4h5M1250,528.9h5M1250,499.3h5M1250,469.8h5M1250,440.2h5M1250,410.7h5M1250,381.1h5M1250,351.6h5M1591,558.4h-5M1591,528.9h-5M1591,499.3h-5M1591,469.8h-5M1591,440.2h-5M1591,410.7h-5M1591,381.1h-5M1591,351.6h-5"/>
<g class="e t15"><text x="1246" y="593">3</text><text x="1246" y="563.4">4</text><text x="1246" y="533.9">5</text><text x="1246" y="504.3">6</text><text x="1246" y="474.8">7</text><text x="1246" y="445.2">8</text><text x="1246" y="415.7">9</text><text x="1246" y="386.1">10</text><text x="1246" y="356.6">11</text><text x="1246" y="327">12</text></g>
<text x="1285" y="343">Rc = 0.9801</text><text x="1365" y="343">RMSEC=0.3000</text>
<text x="1285" y="359">Rp = 0.9736</text><text x="1365" y="359">RMSEP=0.7596</text>
<text class="big48" x="1273" y="389">I</text>

<!-- J -->
<use href="#tight" transform="translate(1646,322)"/>
<use href="#sf" transform="translate(1646,322)"/>
<path class="tk" d="M1646,554.75h5M1646,521.5h5M1646,488.25h5M1646,455h5M1646,421.75h5M1646,388.5h5M1646,355.25h5M1987,554.75h-5M1987,521.5h-5M1987,488.25h-5M1987,455h-5M1987,421.75h-5M1987,388.5h-5M1987,355.25h-5"/>
<g class="e t15"><text x="1642" y="593">4</text><text x="1642" y="559.75">5</text><text x="1642" y="526.5">6</text><text x="1642" y="493.25">7</text><text x="1642" y="460">8</text><text x="1642" y="426.75">9</text><text x="1642" y="393.5">10</text><text x="1642" y="360.25">11</text><text x="1642" y="327">12</text></g>
<text x="1681" y="343">Rc = 0.9868</text><text x="1761" y="343">RMSEC=0.3161</text>
<text x="1681" y="359">Rp = 0.9589</text><text x="1761" y="359">RMSEP=0.4304</text>
<text class="big48" x="1657" y="391">J</text>

<!-- N -->
<use href="#loose" transform="translate(1250,641)"/>
<use href="#sf" transform="translate(1250,641)"/>
<path class="tk" d="M1250,873.75h5M1250,840.5h5M1250,807.25h5M1250,774h5M1250,740.75h5M1250,707.5h5M1250,674.25h5M1591,873.75h-5M1591,840.5h-5M1591,807.25h-5M1591,774h-5M1591,740.75h-5M1591,707.5h-5M1591,674.25h-5"/>
<g class="e t15"><text x="1246" y="912">4</text><text x="1246" y="878.75">5</text><text x="1246" y="845.5">6</text><text x="1246" y="812.25">7</text><text x="1246" y="779">8</text><text x="1246" y="745.75">9</text><text x="1246" y="712.5">10</text><text x="1246" y="679.25">11</text><text x="1246" y="646">12</text></g>
<text x="1285" y="662">Rc = 0.9761</text><text x="1365" y="662">RMSEC=0.3272</text>
<text x="1285" y="678">Rp = 0.9065</text><text x="1365" y="678">RMSEP=0.6531</text>
<text class="big48" x="1261" y="710">N</text>

<!-- O -->
<use href="#tight" transform="translate(1646,641)"/>
<use href="#sf" transform="translate(1646,641)"/>
<path class="tk" d="M1646,873.75h5M1646,840.5h5M1646,807.25h5M1646,774h5M1646,740.75h5M1646,707.5h5M1646,674.25h5M1987,873.75h-5M1987,840.5h-5M1987,807.25h-5M1987,774h-5M1987,740.75h-5M1987,707.5h-5M1987,674.25h-5"/>
<g class="e t15"><text x="1642" y="912">4</text><text x="1642" y="878.75">5</text><text x="1642" y="845.5">6</text><text x="1642" y="812.25">7</text><text x="1642" y="779">8</text><text x="1642" y="745.75">9</text><text x="1642" y="712.5">10</text><text x="1642" y="679.25">11</text><text x="1642" y="646">12</text></g>
<text x="1681" y="662">Rc = 0.9959</text><text x="1761" y="662">RMSEC=0.1346</text>
<text x="1681" y="678">Rp = 0.9831</text><text x="1761" y="678">RMSEP=0.2765</text>
<text class="big48" x="1657" y="710">O</text>
</svg>
</body></html>
